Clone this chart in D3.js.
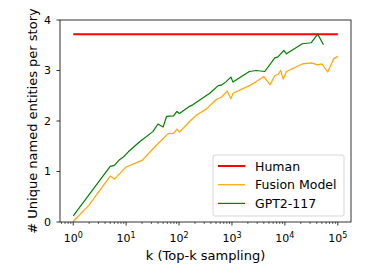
<!DOCTYPE html>
<html>
<head>
<meta charset="utf-8">
<script src="https://cdn.jsdelivr.net/npm/d3@7"></script>
<style>
  body { margin: 0; background: #fff; }
  text { font-family: "DejaVu Sans", sans-serif; fill: #000; }
</style>
</head>
<body>
<div id="chart"></div>
<script>
        var width = 369, height = 277;
        var margin = {left: 60, top: 20, right: 18, bottom: 55};

        // data
        var humanK = [1, 100000];
        var humanVals = [3.72, 3.72];

        var fusionK = [1, 2, 5, 6, 10, 20, 35, 62, 80, 91, 102, 158, 214, 330, 513, 630, 813, 955, 1047,
                       2138, 2884, 3981, 5248, 6457, 7413, 8318, 9333, 10715, 21380, 31623, 41687, 50119,
                       64565, 83176, 100000];
        var fusionVals = [0.01, 0.34, 0.91, 0.85, 1.09, 1.22, 1.49, 1.75, 1.76, 1.84, 1.78, 1.99, 2.12, 2.24,
                          2.43, 2.47, 2.59, 2.44, 2.55, 2.70, 2.78, 2.88, 2.72, 2.90, 2.92, 3.00, 2.83, 2.98,
                          3.13, 3.15, 3.11, 3.13, 2.97, 3.23, 3.28];

        var gptK = [1, 5, 6, 7.4, 8.7, 11, 18, 32, 40, 50, 58, 79, 91, 102, 158, 182, 380, 550, 630, 776,
                    955, 1047, 1413, 2138, 2884, 4169, 6457, 7413, 9550, 10715, 21380, 31623, 41687, 53703];
        var gptVals = [0.12, 1.10, 1.12, 1.23, 1.28, 1.39, 1.59, 1.79, 1.94, 1.88, 2.09, 2.10, 2.19, 2.15,
                       2.29, 2.32, 2.55, 2.70, 2.71, 2.78, 2.87, 2.77, 2.86, 2.98, 3.00, 2.98, 3.25, 3.27,
                       3.40, 3.33, 3.53, 3.55, 3.72, 3.51];

        var yTicks = [0, 1, 2, 3, 4];
        var xTickExps = [0, 1, 2, 3, 4, 5];

        var series = [
            {name: "Human", k: humanK, v: humanVals, color: "red", lw: 2},
            {name: "Fusion Model", k: fusionK, v: fusionVals, color: "orange", lw: 1.2},
            {name: "GPT2-117", k: gptK, v: gptVals, color: "green", lw: 1.2}
        ];

        var svg = d3.select("#chart").append("svg")
                    .attr("width", width).attr("height", height);

        var x = d3.scaleLog()
                  .domain([Math.pow(10, -0.25), Math.pow(10, 5.25)])
                  .range([margin.left, width - margin.right]);
        var y = d3.scaleLinear()
                  .domain([0, 4])
                  .range([height - margin.bottom, margin.top]);

        var line = d3.line()
                     .x(function(d) { return x(d[0]); })
                     .y(function(d) { return y(d[1]); });

        var plot = svg.append("g");
        series.forEach(function(s) {
            plot.append("path")
                .datum(d3.zip(s.k, s.v))
                .attr("d", line)
                .attr("fill", "none")
                .attr("stroke", s.color)
                .attr("stroke-width", s.lw)
                .attr("stroke-linejoin", "round");
        });

        // minor log ticks
        var minor = [];
        for (var e = -1; e <= 5; e++) {
            for (var m = 2; m <= 9; m++) {
                var v = m * Math.pow(10, e);
                if (v > x.domain()[0] && v < x.domain()[1]) minor.push(v);
            }
        }
        var x0 = height - margin.bottom;
        svg.append("g").selectAll("line").data(minor).enter().append("line")
           .attr("x1", function(d) { return x(d); }).attr("x2", function(d) { return x(d); })
           .attr("y1", x0).attr("y2", x0 + 2)
           .attr("stroke", "#000").attr("stroke-width", 0.6);

        // major x ticks
        var xt = svg.append("g").selectAll("g").data(xTickExps).enter().append("g")
                    .attr("transform", function(d) { return "translate(" + x(Math.pow(10, d)) + "," + x0 + ")"; });
        xt.append("line").attr("y2", 3.5).attr("stroke", "#000").attr("stroke-width", 0.8);
        var xl = xt.append("text").attr("y", 20).attr("text-anchor", "middle").style("font-size", "11px");
        xl.append("tspan").text("10");
        xl.append("tspan").attr("dy", -4.5).style("font-size", "8px").text(function(d) { return d; });

        // y ticks
        var yt = svg.append("g").selectAll("g").data(yTicks).enter().append("g")
                    .attr("transform", function(d) { return "translate(" + margin.left + "," + y(d) + ")"; });
        yt.append("line").attr("x2", -3.5).attr("stroke", "#000").attr("stroke-width", 0.8);
        yt.append("text").attr("x", -9).attr("dy", "0.36em").attr("text-anchor", "end")
          .style("font-size", "11px").text(function(d) { return d; });

        // frame
        svg.append("rect")
           .attr("x", margin.left).attr("y", margin.top)
           .attr("width", width - margin.left - margin.right)
           .attr("height", height - margin.top - margin.bottom)
           .attr("fill", "none").attr("stroke", "#000").attr("stroke-width", 0.8);

        // axis labels
        svg.append("text")
           .attr("x", (margin.left + width - margin.right) / 2).attr("y", 260)
           .attr("text-anchor", "middle").style("font-size", "13px")
           .text("k (Top-k sampling)");
        svg.append("text")
           .attr("transform", "translate(37," + (margin.top + (height - margin.top - margin.bottom) / 2) + ") rotate(-90)")
           .attr("text-anchor", "middle").style("font-size", "13px")
           .text("# Unique named entities per story");

        // legend
        var lg = svg.append("g").attr("transform", "translate(213,155)");
        lg.append("rect").attr("width", 131).attr("height", 61).attr("rx", 2)
          .attr("fill", "#fff").attr("fill-opacity", 0.8)
          .attr("stroke", "#ccc").attr("stroke-width", 0.8);
        var items = lg.selectAll("g").data(series).enter().append("g")
                      .attr("transform", function(d, i) { return "translate(0," + (11 + i * 18.7) + ")"; });
        items.append("line").attr("x1", 5).attr("x2", 32)
             .attr("stroke", function(d) { return d.color; })
             .attr("stroke-width", function(d) { return d.lw; });
        items.append("text").attr("x", 42).attr("dy", "0.36em").style("font-size", "12.5px")
             .text(function(d) { return d.name; });
</script>
</body>
</html>
